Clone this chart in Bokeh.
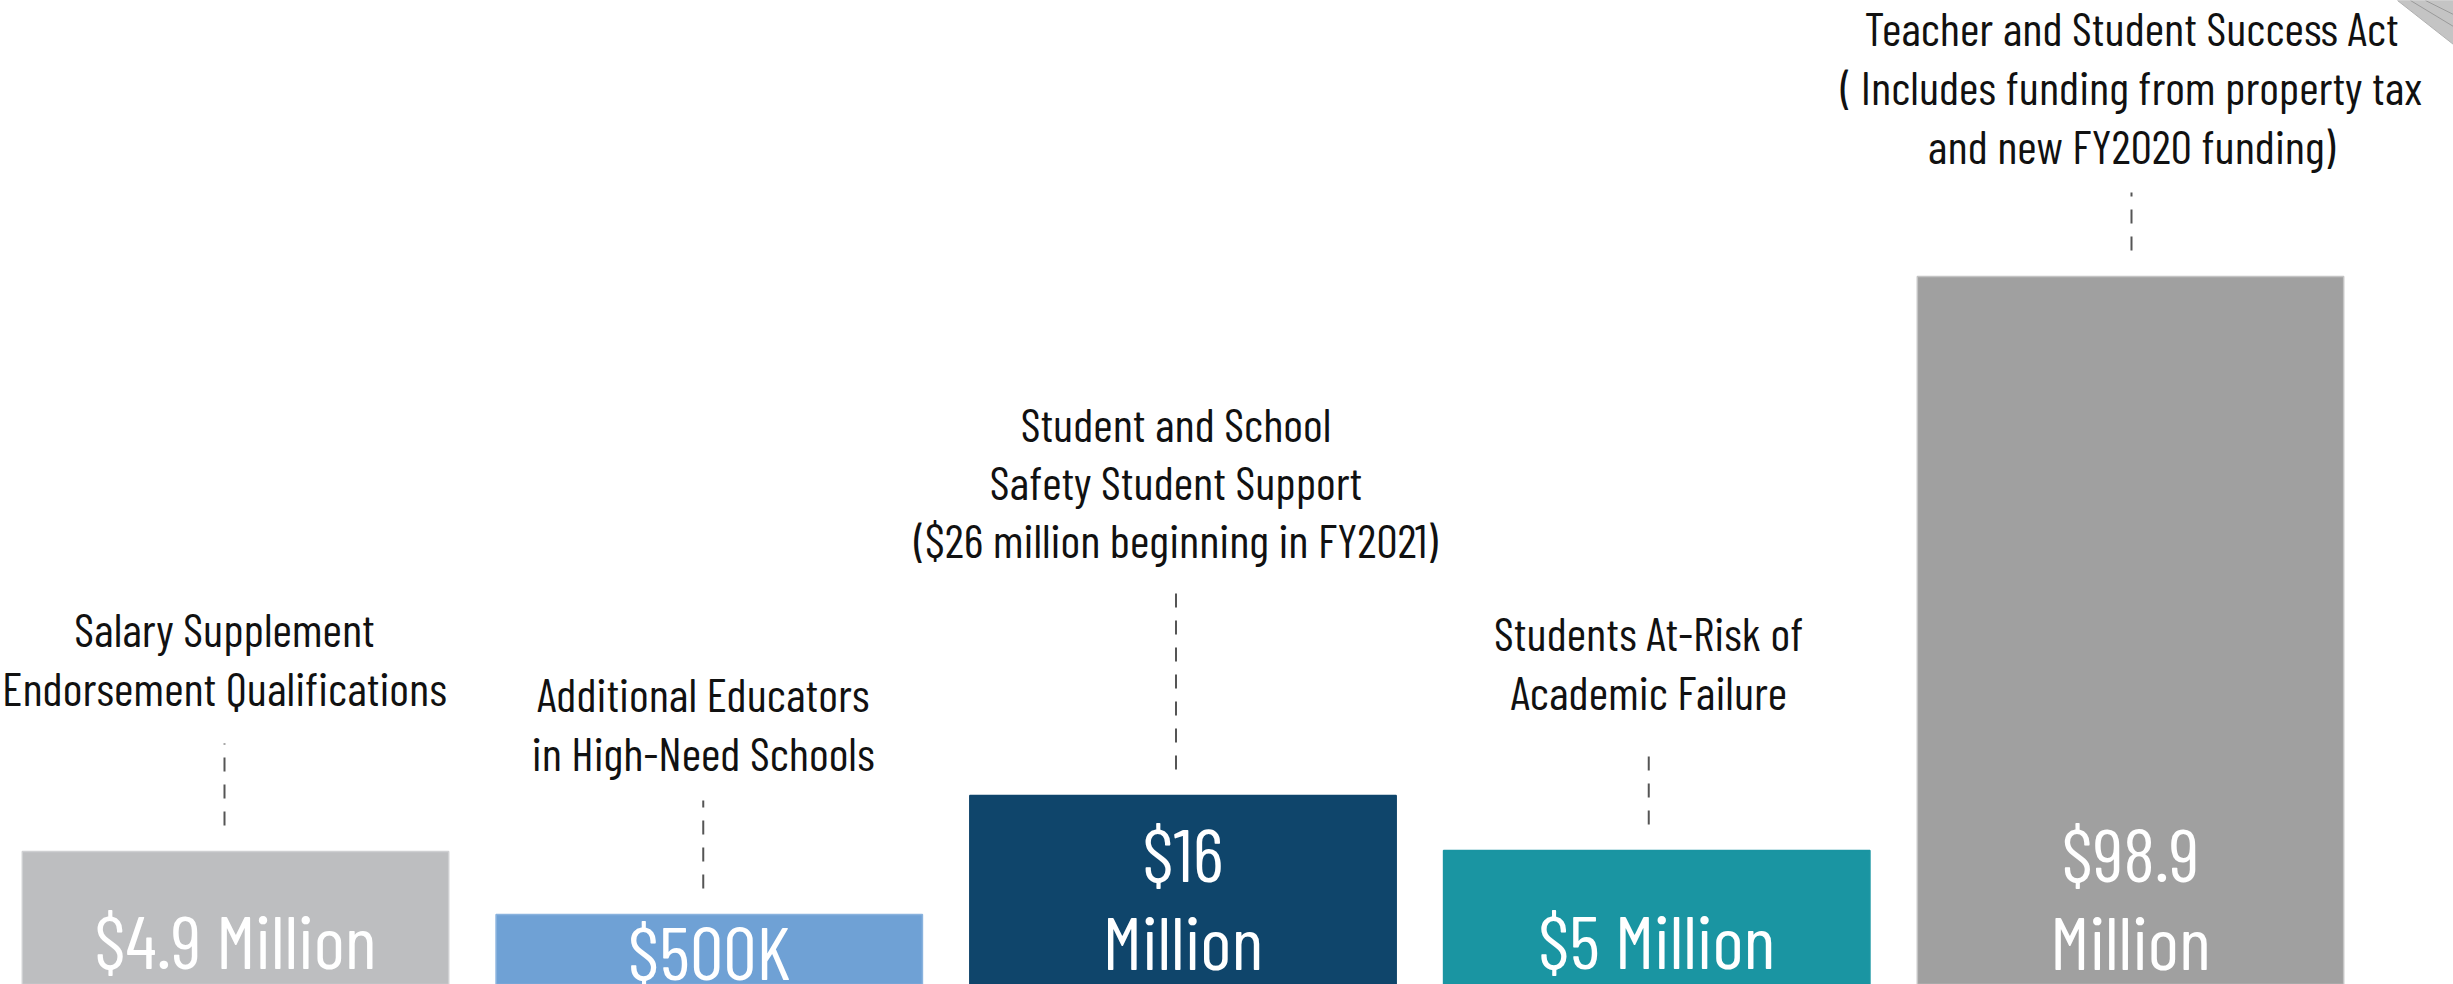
from bokeh.plotting import figure
from bokeh.models import Range1d, ColumnDataSource
from bokeh.core.properties import value
from bokeh.embed import file_html
from bokeh.resources import INLINE

# ---- data ----
program_lines = [
    ["Salary Supplement", "Endorsement Qualifications"],
    ["Additional Educators", "in High-Need Schools"],
    ["Student and School", "Safety Student Support", "($26 million beginning in FY2021)"],
    ["Students At-Risk of", "Academic Failure"],
    ["Teacher and Student Success Act", "( Includes funding from property tax", "and new FY2020 funding)"],
]
amount_lines = [["$4.9 Million"], ["$500K"], ["$16", "Million"], ["$5 Million"], ["$98.9", "Million"]]
amounts_musd = [4.9, 0.5, 16, 5, 98.9]
# drawn bar heights as they appear in the picture (not proportional to amounts)
bar_heights = [133, 70, 189, 134, 708]
bar_colors = ["#bdbec0", "#6fa1d5", "#0f456b", "#1a95a2", "#a0a0a0"]
bar_edges = ["#cfd0d2", "#8ab3de", "#0f456b", "#1a95a2", "#c4c4c4"]

# ---- layout ----
W, H = 2453, 984
spacing_px = 473.75
first_center_px = 235
x0 = -first_center_px / spacing_px
x1 = (W - first_center_px) / spacing_px
bar_width = 0.90
col_shift_px = [-11, -6, -7, -8, 1]
dash_bottom_gap = 26
dash_top_offset = [108, 114, 208, 107, 84]
label_offset = [149, 147, 241, 144, 116]
label_line_h = [59, 59, 58, 59, 59]
FONT = "Barlow Condensed"
LABEL_SIZE = 47.5
VALUE_SIZE = 75
BASE_FIX = 0.33  # font-metric correction of the alphabetic baseline, in em

p = figure(width=W, height=H, output_backend="svg", toolbar_location=None,
           x_range=Range1d(x0, x1), y_range=Range1d(0, H),
           min_border=0, outline_line_color=None, background_fill_color="white",
           border_fill_color="white")
p.axis.visible = False
p.grid.visible = False

idx = list(range(len(bar_heights)))
cols = [i + s / spacing_px for i, s in zip(idx, col_shift_px)]
src = ColumnDataSource(dict(x=idx, top=bar_heights, color=bar_colors, edge=bar_edges))
p.vbar(x="x", top="top", bottom=0, width=bar_width, fill_color="color",
       line_color="edge", line_width=1.5, source=src)

# dashed connectors
p.segment(x0=cols, x1=cols,
          y0=[h + dash_bottom_gap for h in bar_heights],
          y1=[h + d for h, d in zip(bar_heights, dash_top_offset)],
          line_color="#555555", line_width=2, line_dash="14 13")

# program labels
lfix = BASE_FIX * LABEL_SIZE
lx, ly, lt = [], [], []
for i, lines in enumerate(program_lines):
    n = len(lines)
    base = bar_heights[i] + label_offset[i] + lfix
    for j, t in enumerate(lines):
        lx.append(cols[i])
        ly.append(base + (n - 1 - j) * label_line_h[i])
        lt.append(t)
p.text(x=lx, y=ly, text=lt, text_align="center", text_baseline="alphabetic",
       text_font=value(FONT), text_font_size=f"{LABEL_SIZE}px", text_color="#111111")

# amount labels inside bars
vfix = BASE_FIX * VALUE_SIZE
vx, vy, vt = [], [], []
for i, lines in enumerate(amount_lines):
    if len(lines) == 2:
        ys = [108, 20]
    elif bar_heights[i] < 100:
        ys = [10]
    else:
        ys = [21]
    for t, yy in zip(lines, ys):
        vx.append(i)
        vy.append(yy + vfix)
        vt.append(t)
p.text(x=vx, y=vy, text=vt, text_align="center", text_baseline="alphabetic",
       text_font=value(FONT), text_font_size=f"{VALUE_SIZE}px", text_color="white")

# page-curl decoration at top right corner
def dx(sx):
    return x0 + sx / spacing_px
def dy(sy):
    return H - sy
p.patch(x=[dx(2397), dx(2453), dx(2453)], y=[dy(0), dy(0), dy(44)],
        fill_color="#c4c4c4", line_color="#b0b0b0", line_width=1)
p.line(x=[dx(2410), dx(2453)], y=[dy(0), dy(26)], line_color="#9a9a9a", line_width=1)
p.line(x=[dx(2425), dx(2453)], y=[dy(0), dy(14)], line_color="#9a9a9a", line_width=1)

open("out.html", "w").write(file_html(p, INLINE))
